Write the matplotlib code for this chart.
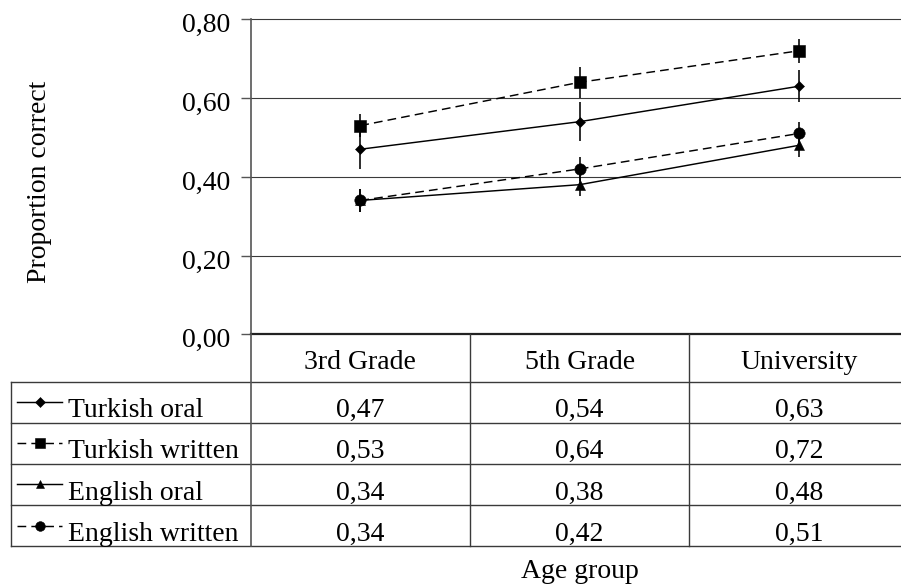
import matplotlib
matplotlib.use("Agg")
import matplotlib.pyplot as plt
import matplotlib.transforms as mtransforms
import numpy as np

plt.rcParams['font.family'] = ['Liberation Serif', 'DejaVu Serif']

# ---- data ----
groups = ["3rd Grade", "5th Grade", "University"]
series_names = ["Turkish oral", "Turkish written", "English oral", "English written"]
turkish_oral = [0.47, 0.54, 0.63]
turkish_written = [0.53, 0.64, 0.72]
english_oral = [0.34, 0.38, 0.48]
english_written = [0.34, 0.42, 0.51]
turkish_oral_err = [0.05, 0.05, 0.04]
turkish_written_err = [0.03, 0.04, 0.03]
english_oral_err = [0.03, 0.03, 0.03]
english_written_err = [0.03, 0.03, 0.03]
y_ticks = [0.0, 0.2, 0.4, 0.6, 0.8]

values = [turkish_oral, turkish_written, english_oral, english_written]
errors = [turkish_oral_err, turkish_written_err, english_oral_err, english_written_err]

# marker / line style of each series
styles = [
    dict(marker='D', ms=5.6, dashed=False),
    dict(marker='s', ms=8.2, dashed=True),
    dict(marker='^', ms=7.6, dashed=False),
    dict(marker='o', ms=8.2, dashed=True),
]
DASHES = (6, 3.5)
FS = 20
GRID_C = '#3a3a3a'

# ---- layout (pixels measured from the top-left corner) ----
W, H = 901, 588
fig = plt.figure(figsize=(W / 100, H / 100), dpi=100)


def fx(px):
    return px / W


def fy(py):
    return 1 - py / H


ax_left, ax_right = 250.7, 908.6
ax_top, ax_bottom = 19.3, 334.3
ax = fig.add_axes([fx(ax_left), fy(ax_bottom),
                   (ax_right - ax_left) / W, (ax_bottom - ax_top) / H])

x = np.arange(len(groups))
for vals, err, st in zip(values, errors, styles):
    ax.errorbar(x, vals, yerr=err, fmt='none', ecolor='black',
                elinewidth=1.15, capsize=0, zorder=3)
    ln, = ax.plot(x, vals, color='black', lw=1.05, marker=st['marker'],
                  ms=st['ms'], mfc='black', mec='black', mew=0.4, zorder=4)
    if st['dashed']:
        ln.set_dashes(DASHES)

ax.set_xlim(-0.5, len(groups) - 0.5)
ax.set_ylim(0, 0.8)
for yv in y_ticks[1:]:
    ax.axhline(yv, color=GRID_C, lw=0.8, zorder=1, clip_on=False)

ax.set_yticks(y_ticks)
ax.set_yticklabels([f"{v:.2f}".replace('.', ',') for v in y_ticks], fontsize=FS)
ax.set_xticks([])
ax.tick_params(axis='y', direction='out', length=7, width=1.0,
               color='#555555', pad=7.5)
shift = mtransforms.ScaledTranslation(0, -2.5 / 72, fig.dpi_scale_trans)
for lab in ax.get_yticklabels():
    lab.set_transform(lab.get_transform() + shift)
for side in ('top', 'right'):
    ax.spines[side].set_visible(False)
ax.spines['left'].set_color('#555555')
ax.spines['left'].set_linewidth(1.2)
ax.spines['bottom'].set_color('#222222')
ax.spines['bottom'].set_linewidth(1.6)

fig.text(fx(40), fy(182), "Proportion correct", rotation=90,
         ha='center', va='center', fontsize=FS)

# ---- data table under the plot ----
tab_left, tab_bottom = 10.7, 546.0
tax = fig.add_axes([fx(tab_left), fy(tab_bottom),
                    (ax_right - tab_left) / W, (tab_bottom - ax_bottom) / H])
col_w = (ax_right - ax_left) / len(groups)
label_w = (ax_left - tab_left) / col_w
x0 = -0.5 - label_w
tax.set_xlim(x0, len(groups) - 0.5)
tax.set_ylim(tab_bottom - ax_bottom, 0)
tax.axis('off')

header_h = 47.4
row_h = 41.1
n_rows = len(series_names)
y_end = header_h + n_rows * row_h


def px_to_tx(px):
    return x0 + (px - tab_left) / col_w


line_kw = dict(color=GRID_C, lw=1.0, clip_on=False)
for i in range(n_rows + 1):
    yy = header_h + i * row_h
    tax.plot([x0, len(groups) - 0.5], [yy, yy], **line_kw)
tax.plot([x0, x0], [header_h, y_end], **line_kw)
tax.plot([-0.5, -0.5], [0, y_end], color='#555555', lw=1.2, clip_on=False)
for c in range(1, len(groups)):
    tax.plot([c - 0.5, c - 0.5], [0, y_end], **line_kw)

for c, g in enumerate(groups):
    tax.text(c, 34.7, g, ha='center', va='baseline', fontsize=FS)

for r, (name, vals, st) in enumerate(zip(series_names, values, styles)):
    top = header_h + r * row_h
    base = top + 35.6
    mid = top + row_h / 2
    ln, = tax.plot([px_to_tx(17), px_to_tx(62)], [mid, mid], color='black',
                   lw=1.05, clip_on=False)
    if st['dashed']:
        ln.set_dashes(DASHES)
    tax.plot([px_to_tx(40)], [mid], marker=st['marker'], ms=st['ms'] * 0.85,
             color='black', mew=0.4, clip_on=False)
    tax.text(px_to_tx(68), base, name, ha='left', va='baseline', fontsize=FS)
    for c, v in enumerate(vals):
        tax.text(c, base, f"{v:.2f}".replace('.', ','), ha='center',
                 va='baseline', fontsize=FS)

fig.text(fx((ax_left + ax_right) / 2), fy(578), "Age group",
         ha='center', va='baseline', fontsize=FS)

fig.savefig("out.png", dpi=100)
